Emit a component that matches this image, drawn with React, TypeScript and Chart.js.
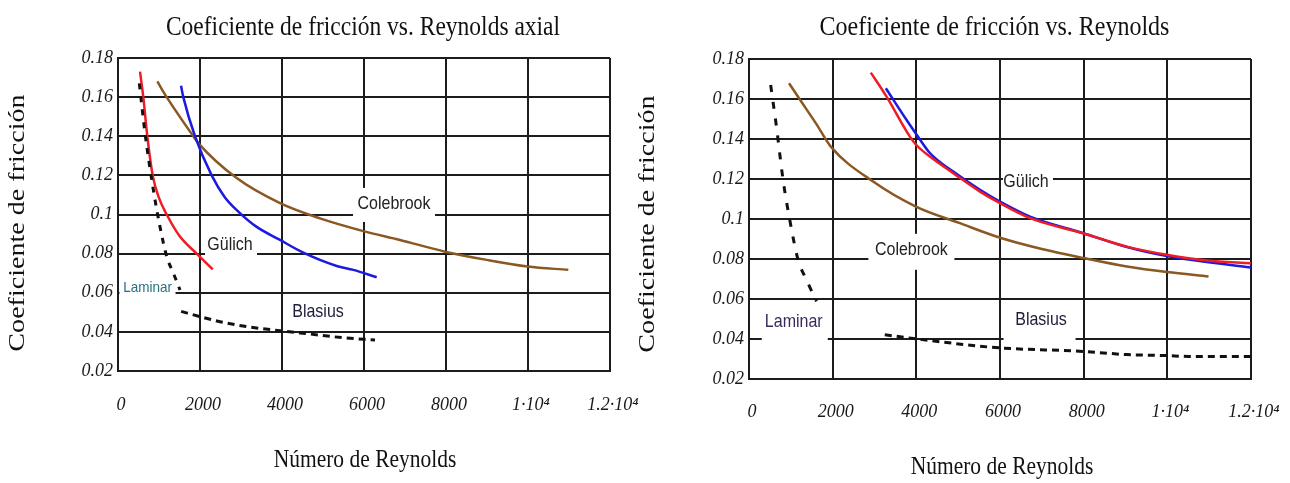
import React, { useEffect, useRef } from "react";
import { Chart, registerables } from "chart.js";

Chart.register(...registerables);

// ---------- axis ticks ----------
const xTickValues = [0, 2000, 4000, 6000, 8000, 10000, 12000];
const xTickLabels = ["0", "2000", "4000", "6000", "8000", "1·10⁴", "1.2·10⁴"];
const yTickValues = [0.02, 0.04, 0.06, 0.08, 0.1, 0.12, 0.14, 0.16, 0.18];
const yTickLabels = ["0.02", "0.04", "0.06", "0.08", "0.1", "0.12", "0.14", "0.16", "0.18"];

// ---------- left chart: Reynolds axial ----------
const axialLaminarRe = [520, 659, 862, 1024, 1188, 1351, 1512];
const axialLaminarF = [0.167, 0.1416, 0.1126, 0.0938, 0.0785, 0.07, 0.0614];
const axialBlasiusRe = [1540, 2000, 2488, 3139, 3951, 4683, 5496, 6268];
const axialBlasiusF = [0.0505, 0.0478, 0.0452, 0.0427, 0.0406, 0.0389, 0.037, 0.0358];
const axialRedRe = [537, 617, 715, 846, 990, 1188, 1512, 1919, 2310];
const axialRedF = [0.173, 0.16, 0.14, 0.12, 0.109, 0.1, 0.0887, 0.08, 0.072];
const axialBlueRe = [1537, 1593, 1878, 2285, 2600, 2934, 3374, 3951, 4520, 5334, 5741, 6310];
const axialBlueF = [0.1658, 0.16, 0.14, 0.12, 0.109, 0.1015, 0.0938, 0.087, 0.0805, 0.0737, 0.0717, 0.0679];
const axialColebrookRe = [959, 1188, 1837, 1958, 2895, 3951, 4927, 5983, 6878, 7976, 8993, 9993, 10983];
const axialColebrookF = [0.168, 0.16, 0.14, 0.1365, 0.1186, 0.1058, 0.098, 0.0915, 0.087, 0.081, 0.0768, 0.0734, 0.0717];
const axialLabelText = ["Colebrook", "Gülich", "Laminar", "Blasius"];
const axialLabelRe = [6732, 2732, 720, 4878];
const axialLabelF = [0.1054, 0.0845, 0.0625, 0.0502];

// ---------- right chart: Reynolds ----------
const laminarRe = [518, 656, 814, 974, 1173, 1374, 1613];
const laminarF = [0.167, 0.1462, 0.1196, 0.0996, 0.0796, 0.0696, 0.0588];
const blasiusRe = [3246, 3989, 5202, 6023, 7978, 9032, 9989, 10500, 12000];
const blasiusF = [0.0421, 0.0401, 0.0371, 0.0355, 0.0338, 0.0322, 0.0317, 0.0313, 0.0313];
const redRe = [2912, 3288, 3846, 4000, 4324, 4882, 5521, 6000, 6718, 7978, 9032, 9989, 10946, 12000];
const redF = [0.1732, 0.1612, 0.1412, 0.137, 0.1312, 0.1229, 0.1137, 0.1079, 0.1004, 0.0929, 0.0862, 0.0821, 0.0792, 0.0779];
const blueRe = [3271, 3767, 4000, 4324, 4882, 5521, 6000, 6718, 7978, 9032, 9989, 10946, 12000];
const blueF = [0.1654, 0.1495, 0.1424, 0.133, 0.1237, 0.1146, 0.1087, 0.1012, 0.093, 0.086, 0.0815, 0.0785, 0.0758];
const colebrookRe = [957, 1208, 1600, 1955, 2967, 3989, 5042, 6023, 7000, 8000, 9032, 9989, 10985];
const colebrookF = [0.1679, 0.16, 0.1478, 0.1362, 0.1187, 0.1062, 0.0979, 0.0905, 0.085, 0.0805, 0.0763, 0.0735, 0.0713];
const labelText = ["Gülich", "Colebrook", "Laminar", "Blasius"];
const labelRe = [6621, 3882, 1070, 6981];
const labelF = [0.1186, 0.0846, 0.0486, 0.0496];

// ---------- styles ----------
const RED = "#f01c24";
const BLUE = "#1a1ae0";
const BROWN = "#8a5822";
const BLACK = "#111111";
const GRID = "#1c1c1c";

const pts = (xs: number[], ys: number[]) => xs.map((x, i) => ({ x, y: ys[i] }));

type LabelStyle = { w: number; h: number; dx: number; dy: number; size: number; color: string };

type Spec = {
  left: number;
  width: number;
  area: { left: number; right: number; top: number; bottom: number };
  title: string;
  titlePos: [number, number, number];
  yTitlePos: [number, number];
  xTitlePos: [number, number];
  xTickPad: number;
  datasets: any[];
  labels: { text: string[]; re: number[]; f: number[]; styles: LabelStyle[] };
};

function drawStretched(
  ctx: CanvasRenderingContext2D,
  text: string,
  x: number,
  y: number,
  font: string,
  color: string,
  stretch: number,
  rotate = false
) {
  ctx.save();
  ctx.translate(x, y);
  if (rotate) {
    ctx.rotate(-Math.PI / 2);
    ctx.scale(stretch, 1);
  } else {
    ctx.scale(1, stretch);
  }
  ctx.font = font;
  ctx.fillStyle = color;
  ctx.textAlign = "center";
  ctx.textBaseline = "middle";
  ctx.fillText(text, 0, 0);
  ctx.restore();
}

function buildConfig(spec: Spec): any {
  const textPlugin = {
    id: "textPlugin",
    beforeDatasetsDraw(chart: any) {
      const { ctx, scales } = chart;
      ctx.save();
      ctx.fillStyle = "#ffffff";
      spec.labels.text.forEach((_t, i) => {
        const s = spec.labels.styles[i];
        const px = scales.x.getPixelForValue(spec.labels.re[i]) + s.dx;
        const py = scales.y.getPixelForValue(spec.labels.f[i]) + s.dy;
        ctx.fillRect(px - s.w / 2, py - s.h / 2, s.w, s.h);
      });
      ctx.restore();
    },
    afterDraw(chart: any) {
      const { ctx, scales } = chart;
      spec.labels.text.forEach((t, i) => {
        const s = spec.labels.styles[i];
        const px = scales.x.getPixelForValue(spec.labels.re[i]);
        const py = scales.y.getPixelForValue(spec.labels.f[i]);
        drawStretched(ctx, t, px, py, `${s.size}px "Liberation Sans", Arial, sans-serif`, s.color, 1.12);
      });
      const serif = '"Liberation Serif", "Times New Roman", serif';
      drawStretched(ctx, spec.title, spec.titlePos[0], spec.titlePos[1], `${spec.titlePos[2]}px ${serif}`, "#111", 1.15);
      drawStretched(ctx, "Coeficiente de fricción", spec.yTitlePos[0], spec.yTitlePos[1], `24px ${serif}`, "#111", 1.17, true);
      drawStretched(ctx, "Número de Reynolds", spec.xTitlePos[0], spec.xTitlePos[1], `21.5px ${serif}`, "#111", 1.15);
    },
  };

  const H = 483;
  return {
    type: "line",
    data: { datasets: spec.datasets },
    options: {
      animation: false,
      responsive: false,
      devicePixelRatio: 1,
      layout: { padding: { left: 0, top: spec.area.top, right: spec.width - spec.area.right, bottom: 0 } },
      plugins: { legend: { display: false }, tooltip: { enabled: false }, title: { display: false } },
      elements: { point: { radius: 0 } },
      scales: {
        x: {
          type: "linear",
          min: 0,
          max: 12000,
          afterBuildTicks: (s: any) => {
            s.ticks = xTickValues.map((v) => ({ value: v }));
          },
          afterFit: (s: any) => {
            s.height = H - spec.area.bottom;
            s.paddingLeft = 0;
            s.paddingRight = 0;
          },
          grid: { color: GRID, lineWidth: 2, drawTicks: false },
          border: { display: true, color: GRID, width: 2 },
          ticks: {
            padding: spec.xTickPad,
            labelOffset: 3,
            maxRotation: 0,
            autoSkip: false,
            color: "#1a1a1a",
            font: { family: '"Liberation Serif", "Times New Roman", serif', size: 18, style: "italic" },
            callback: (_v: any, i: number) => xTickLabels[i],
          },
        },
        y: {
          type: "linear",
          min: 0.02,
          max: 0.18,
          afterBuildTicks: (s: any) => {
            s.ticks = yTickValues.map((v) => ({ value: v }));
          },
          afterFit: (s: any) => {
            s.width = spec.area.left;
            s.paddingTop = 0;
            s.paddingBottom = 0;
          },
          grid: { color: GRID, lineWidth: 2, drawTicks: false },
          border: { display: true, color: GRID, width: 2 },
          ticks: {
            padding: 5,
            autoSkip: false,
            color: "#1a1a1a",
            font: { family: '"Liberation Serif", "Times New Roman", serif', size: 18, style: "italic" },
            callback: (_v: any, i: number) => yTickLabels[i],
          },
        },
      },
    },
    plugins: [textPlugin],
  };
}

const lineDs = (data: any[], color: string, extra: any = {}) => ({
  data,
  borderColor: color,
  backgroundColor: color,
  borderWidth: 2.5,
  fill: false,
  cubicInterpolationMode: "monotone",
  pointRadius: 0,
  ...extra,
});

const leftSpec: Spec = {
  left: 0,
  width: 640,
  area: { left: 118, right: 610, top: 58, bottom: 371 },
  title: "Coeficiente de fricción vs. Reynolds axial",
  titlePos: [363, 28, 23.5],
  yTitlePos: [18, 223],
  xTitlePos: [365, 461],
  xTickPad: 23,
  datasets: [
    lineDs(pts(axialRedRe, axialRedF), RED, { order: 1 }),
    lineDs(pts(axialBlueRe, axialBlueF), BLUE, { order: 2 }),
    lineDs(pts(axialColebrookRe, axialColebrookF), BROWN, { order: 3 }),
    lineDs(pts(axialLaminarRe, axialLaminarF), BLACK, { order: 0, borderWidth: 3, borderDash: [6, 7] }),
    lineDs(pts(axialBlasiusRe, axialBlasiusF), BLACK, { order: 0, borderWidth: 3, borderDash: [7, 5] }),
  ],
  labels: {
    text: axialLabelText,
    re: axialLabelRe,
    f: axialLabelF,
    styles: [
      { w: 82, h: 34, dx: 0, dy: 1, size: 16, color: "#222" },
      { w: 52, h: 28, dx: 1, dy: 0, size: 16, color: "#222" },
      { w: 56, h: 18, dx: 0, dy: 0, size: 13.5, color: "#27707e" },
      { w: 68, h: 36, dx: 0, dy: 0, size: 16, color: "#1d1d3a" },
    ],
  },
};

const rightSpec: Spec = {
  left: 625,
  width: 665,
  area: { left: 124, right: 626, top: 59, bottom: 379 },
  title: "Coeficiente de fricción vs. Reynolds",
  titlePos: [369.5, 28, 24],
  yTitlePos: [23, 224],
  xTitlePos: [377, 468],
  xTickPad: 22,
  datasets: [
    lineDs(pts(redRe, redF), RED, { order: 1 }),
    lineDs(pts(blueRe, blueF), BLUE, { order: 2 }),
    lineDs(pts(colebrookRe, colebrookF), BROWN, { order: 3 }),
    lineDs(pts(laminarRe, laminarF), BLACK, { order: 0, borderWidth: 3, borderDash: [7, 10] }),
    lineDs(pts(blasiusRe, blasiusF), BLACK, { order: 0, borderWidth: 3, borderDash: [7, 5] }),
  ],
  labels: {
    text: labelText,
    re: labelRe,
    f: labelF,
    styles: [
      { w: 50, h: 28, dx: 2, dy: -1, size: 16, color: "#222" },
      { w: 86, h: 36, dx: 0, dy: 2, size: 16, color: "#222" },
      { w: 66, h: 36, dx: 1, dy: 1, size: 16, color: "#3a2a5c" },
      { w: 72, h: 40, dx: -1.5, dy: 1, size: 16, color: "#1d1d3a" },
    ],
  },
};

function FrictionChart({ spec }: { spec: Spec }) {
  const ref = useRef<HTMLCanvasElement>(null);
  useEffect(() => {
    if (!ref.current) return;
    const chart = new Chart(ref.current, buildConfig(spec));
    return () => chart.destroy();
  }, [spec]);
  return (
    <canvas
      ref={ref}
      width={spec.width}
      height={483}
      style={{ position: "absolute", left: spec.left, top: 0, width: spec.width, height: 483 }}
    />
  );
}

export default function App() {
  return (
    <div style={{ position: "fixed", left: 0, top: 0, width: 1290, height: 483, background: "#ffffff", overflow: "hidden" }}>
      <FrictionChart spec={leftSpec} />
      <FrictionChart spec={rightSpec} />
    </div>
  );
}
